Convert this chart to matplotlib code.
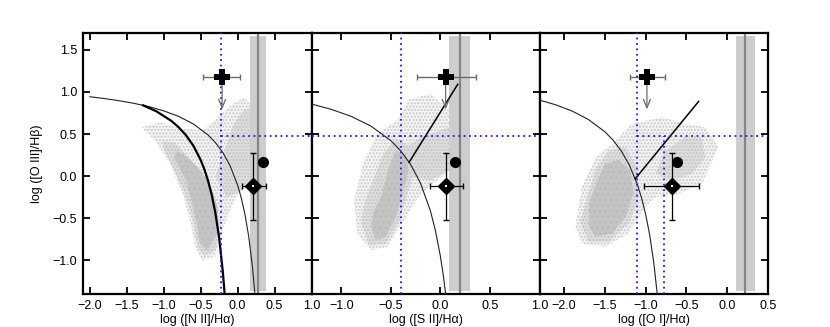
import numpy as np
import matplotlib
matplotlib.use('Agg')
import matplotlib.pyplot as plt
from matplotlib.patches import Polygon

plt.rcParams['font.family'] = ['Liberation Sans', 'DejaVu Sans']
plt.rcParams['hatch.linewidth'] = 1.0

# ---- panel set-up ----
x_labels = ['log ([N II]/H\u03b1)', 'log ([S II]/H\u03b1)', 'log ([O I]/H\u03b1)']
x_limits = [(-2.1, 1.0), (-1.3, 1.0), (-2.3, 0.5)]
x_ticks = [[-2.0, -1.5, -1.0, -0.5, 0.0, 0.5, 1.0],
           [-1.0, -0.5, 0.0, 0.5, 1.0],
           [-2.0, -1.5, -1.0, -0.5, 0.0, 0.5]]
y_limits = (-1.4, 1.7)
y_ticks = [-1.0, -0.5, 0.0, 0.5, 1.0, 1.5]

# ---- SDSS galaxy cloud outlines per panel: sparse halo, medium, dense core ----
halo = [
    [[(-1.30, 0.58), (-1.10, 0.40), (-0.90, 0.12), (-0.74, -0.22), (-0.64, -0.55),
      (-0.57, -0.85), (-0.48, -1.00), (-0.30, -0.95), (-0.20, -0.62), (-0.05, -0.30),
      (0.17, 0.00), (0.17, 0.86), (0.09, 0.93), (-0.06, 0.86), (-0.24, 0.72),
      (-0.45, 0.55), (-0.75, 0.56), (-1.05, 0.64)]],
    [[(-0.84, -0.68), (-0.70, -0.88), (-0.535, -0.84), (-0.37, -0.525), (-0.20, -0.21),
      (-0.03, -0.05), (0.09, 0.07), (0.09, 0.78), (-0.10, 0.98), (-0.33, 0.90),
      (-0.435, 0.66), (-0.64, 0.50), (-0.77, 0.19), (-0.87, -0.29)]],
    [[(-1.86, -0.60), (-1.78, -0.80), (-1.49, -0.84), (-1.21, -0.68), (-1.04, -0.41),
      (-0.88, -0.25), (-0.60, -0.21), (-0.31, -0.09), (-0.11, 0.34), (-0.27, 0.58),
      (-0.52, 0.62), (-0.80, 0.70), (-1.17, 0.62), (-1.41, 0.38), (-1.61, 0.225),
      (-1.78, -0.13)]],
]
medium = [
    [[(-1.02, 0.42), (-0.85, 0.40), (-0.62, 0.18), (-0.45, -0.05), (-0.30, -0.30),
      (-0.24, -0.60), (-0.30, -0.88), (-0.45, -0.95), (-0.54, -0.85), (-0.60, -0.55),
      (-0.70, -0.25), (-0.85, 0.05), (-0.98, 0.28)],
     [(-0.30, 0.00), (-0.18, 0.30), (-0.05, 0.62), (0.10, 0.80), (0.17, 0.80),
      (0.17, -0.10), (0.00, -0.20), (-0.15, -0.25)]],
    [[(-0.80, -0.55), (-0.72, -0.82), (-0.55, -0.80), (-0.42, -0.55), (-0.33, -0.20),
      (-0.25, 0.10), (-0.30, 0.35), (-0.45, 0.45), (-0.58, 0.25), (-0.68, -0.05),
      (-0.76, -0.30)],
     [(-0.35, 0.34), (-0.20, 0.46), (0.09, 0.58), (0.09, 0.07), (-0.10, -0.05),
      (-0.27, -0.01)]],
    [[(-1.80, -0.55), (-1.70, -0.78), (-1.45, -0.78), (-1.20, -0.55), (-1.08, -0.25),
      (-1.10, 0.10), (-1.25, 0.35), (-1.45, 0.30), (-1.60, 0.10), (-1.72, -0.25)],
     [(-0.88, 0.03), (-0.76, 0.30), (-0.52, 0.46), (-0.31, 0.46), (-0.27, 0.225),
      (-0.43, 0.03), (-0.68, -0.05)]],
]
core = [
    [[(-0.82, 0.30), (-0.864, 0.225), (-0.70, -0.05), (-0.61, -0.33), (-0.545, -0.60),
      (-0.51, -0.80), (-0.41, -0.88), (-0.28, -0.68), (-0.27, -0.37), (-0.36, -0.13),
      (-0.50, 0.07), (-0.68, 0.225)]],
    [[(-0.70, -0.60), (-0.65, -0.76), (-0.55, -0.72), (-0.45, -0.49), (-0.385, -0.21),
      (-0.32, 0.07), (-0.35, 0.265), (-0.45, 0.30), (-0.52, 0.11), (-0.585, -0.21),
      (-0.67, -0.41)]],
    [[(-1.695, -0.60), (-1.61, -0.72), (-1.41, -0.68), (-1.25, -0.49), (-1.15, -0.21),
      (-1.19, 0.07), (-1.33, 0.19), (-1.49, 0.15), (-1.59, -0.05), (-1.695, -0.33)]],
]

# ---- demarcation curves ----
kewley_x = [
    [-2.0, -1.8, -1.6, -1.4, -1.2, -1.0, -0.8, -0.6, -0.4, -0.3, -0.2, -0.1, 0.0,
     0.05, 0.1, 0.15, 0.2, 0.235],
    [-1.3, -1.1, -0.9, -0.7, -0.5, -0.4, -0.3, -0.2, -0.1, -0.05, 0.0, 0.03, 0.053],
    [-2.3, -2.1, -1.9, -1.7, -1.5, -1.4, -1.3, -1.2, -1.1, -1.05, -1.0, -0.95, -0.9,
     -0.857],
]
kewley_y = [
    [0.943, 0.921, 0.895, 0.864, 0.825, 0.775, 0.710, 0.620, 0.489, 0.398, 0.280,
     0.120, -0.108, -0.262, -0.459, -0.716, -1.069, -1.406],
    [0.856, 0.793, 0.710, 0.594, 0.422, 0.300, 0.139, -0.085, -0.414, -0.646, -0.95,
     -1.183, -1.397],
    [0.903, 0.847, 0.773, 0.672, 0.528, 0.429, 0.302, 0.133, -0.101, -0.257, -0.450,
     -0.698, -1.025, -1.404],
]
kauff_x = [-1.28, -1.1, -0.9, -0.8, -0.7, -0.6, -0.5, -0.45, -0.4, -0.35, -0.3,
           -0.25, -0.2, -0.176]
kauff_y = [0.841, 0.770, 0.658, 0.582, 0.487, 0.362, 0.191, 0.08, -0.056, -0.225,
           -0.443, -0.733, -1.14, -1.399]
liner_x = [None, (-0.315, 0.175), (-1.126, -0.35)]
liner_y = [None, (0.165, 1.09), (-0.03, 0.887)]

# ---- blue dotted limits ----
vline_x = [[-0.22], [-0.40], [-1.10, -0.77]]
vline_top = [[1.7], [1.7], [1.7, 0.48]]
hline_y = 0.48
hline_x0 = [-0.22, -1.3, -1.10]

# ---- grey band (range of the source) ----
band_mid = [0.277, 0.195, 0.224]
band_lo = [0.168, 0.09, 0.106]
band_hi = [0.386, 0.30, 0.338]
band_y = (-1.37, 1.67)

# ---- measured points ----
cross_x = [-0.21, 0.053, -0.984]
cross_y = 1.18
cross_xlo = [-0.47, -0.234, -1.19]
cross_xhi = [0.035, 0.36, -0.76]
arrow_to = 0.76
circle_x = [0.345, 0.144, -0.617]
circle_y = 0.17
diam_x = [0.21, 0.06, -0.682]
diam_y = -0.12
diam_xlo = [0.054, -0.107, -1.016]
diam_xhi = [0.386, 0.224, -0.346]
diam_ylo = -0.525
diam_yhi = 0.275


def fmt_ticks(ticks):
    return ['%.1f' % t if t >= 0 else '\u2212%.1f' % abs(t) for t in ticks]


fig = plt.figure(figsize=(8.3, 3.27), dpi=100)
W, H = 830.0, 327.0
lefts = [82.5, 311.5, 539.5]
widths = [229.0, 228.0, 228.5]

for i in range(3):
    ax = fig.add_axes([lefts[i] / W, 33 / H, widths[i] / W, 261 / H])
    ax.set_xlim(x_limits[i])
    ax.set_ylim(y_limits)

    # galaxy cloud
    for poly in halo[i]:
        ax.add_patch(Polygon(poly, closed=True, facecolor='#f4f4f4', edgecolor='#c8c8c8',
                             linewidth=0, hatch='.....', zorder=1))
    for poly in medium[i]:
        ax.add_patch(Polygon(poly, closed=True, facecolor='#dedede', edgecolor='#c2c2c2',
                             linewidth=0, hatch='.....', zorder=1.1))
    for poly in core[i]:
        ax.add_patch(Polygon(poly, closed=True, facecolor='#c4c4c4', edgecolor='#bababa',
                             linewidth=0, hatch='...', zorder=1.2))

    # band
    ax.fill_betweenx(band_y, band_lo[i], band_hi[i], color='#cdcdcd', linewidth=0, zorder=2)
    ax.axvline(band_mid[i], color='#858585', linewidth=1.6, zorder=2.1)

    # curves
    ax.plot(kewley_x[i], kewley_y[i], color='#222222', linewidth=0.8, zorder=3)
    if i == 0:
        ax.plot(kauff_x, kauff_y, color='black', linewidth=1.6, zorder=3)
    else:
        ax.plot(liner_x[i], liner_y[i], color='black', linewidth=1.1, zorder=3)

    # blue dotted
    for vx, vt in zip(vline_x[i], vline_top[i]):
        ax.plot([vx, vx], [y_limits[0], vt], color='#1a1aff', linestyle=(0, (1, 2)),
                linewidth=1.3, zorder=4)
    ax.plot([hline_x0[i], x_limits[i][1]], [hline_y, hline_y], color='#1a1aff',
            linestyle=(0, (1, 2)), linewidth=1.3, zorder=4)

    # upper limit cross
    ax.errorbar(cross_x[i], cross_y,
                xerr=[[cross_x[i] - cross_xlo[i]], [cross_xhi[i] - cross_x[i]]],
                fmt='none', ecolor='#6a6a6a', elinewidth=1.0, capsize=2.5, zorder=5)
    ax.annotate('', xy=(cross_x[i], arrow_to), xytext=(cross_x[i], cross_y),
                arrowprops=dict(arrowstyle='->,head_length=0.6,head_width=0.25',
                                color='#6a6a6a', linewidth=0.9), zorder=5)
    ax.plot(cross_x[i], cross_y, marker='P', markersize=11, color='black',
            markeredgewidth=0, zorder=6)

    # circle
    ax.plot(circle_x[i], circle_y, marker='o', markersize=7, color='black', zorder=6)

    # diamond
    ax.errorbar(diam_x[i], diam_y,
                xerr=[[diam_x[i] - diam_xlo[i]], [diam_xhi[i] - diam_x[i]]],
                yerr=[[diam_y - diam_ylo], [diam_yhi - diam_y]],
                fmt='none', ecolor='black', elinewidth=0.9, capsize=2.5, zorder=5)
    ax.plot(diam_x[i], diam_y, marker='D', markersize=8, color='black', zorder=6)
    ax.plot(diam_x[i], diam_y, marker='s', markersize=1.5, color='white',
            markeredgewidth=0, zorder=7)

    ax.set_xticks(x_ticks[i])
    ax.set_xticklabels(fmt_ticks(x_ticks[i]))
    ax.set_yticks(y_ticks)
    if i == 0:
        ax.set_yticklabels(fmt_ticks(y_ticks))
        ax.set_ylabel('log ([O III]/H\u03b2)', fontsize=9, labelpad=7)
    else:
        ax.set_yticklabels([])
    ax.set_xlabel(x_labels[i], fontsize=9, labelpad=2)
    ax.tick_params(direction='in', top=True, right=True, length=5, width=1.3,
                   labelsize=9, pad=4)
    for s in ax.spines.values():
        s.set_linewidth(1.6)

fig.savefig('out.png', dpi=100)
